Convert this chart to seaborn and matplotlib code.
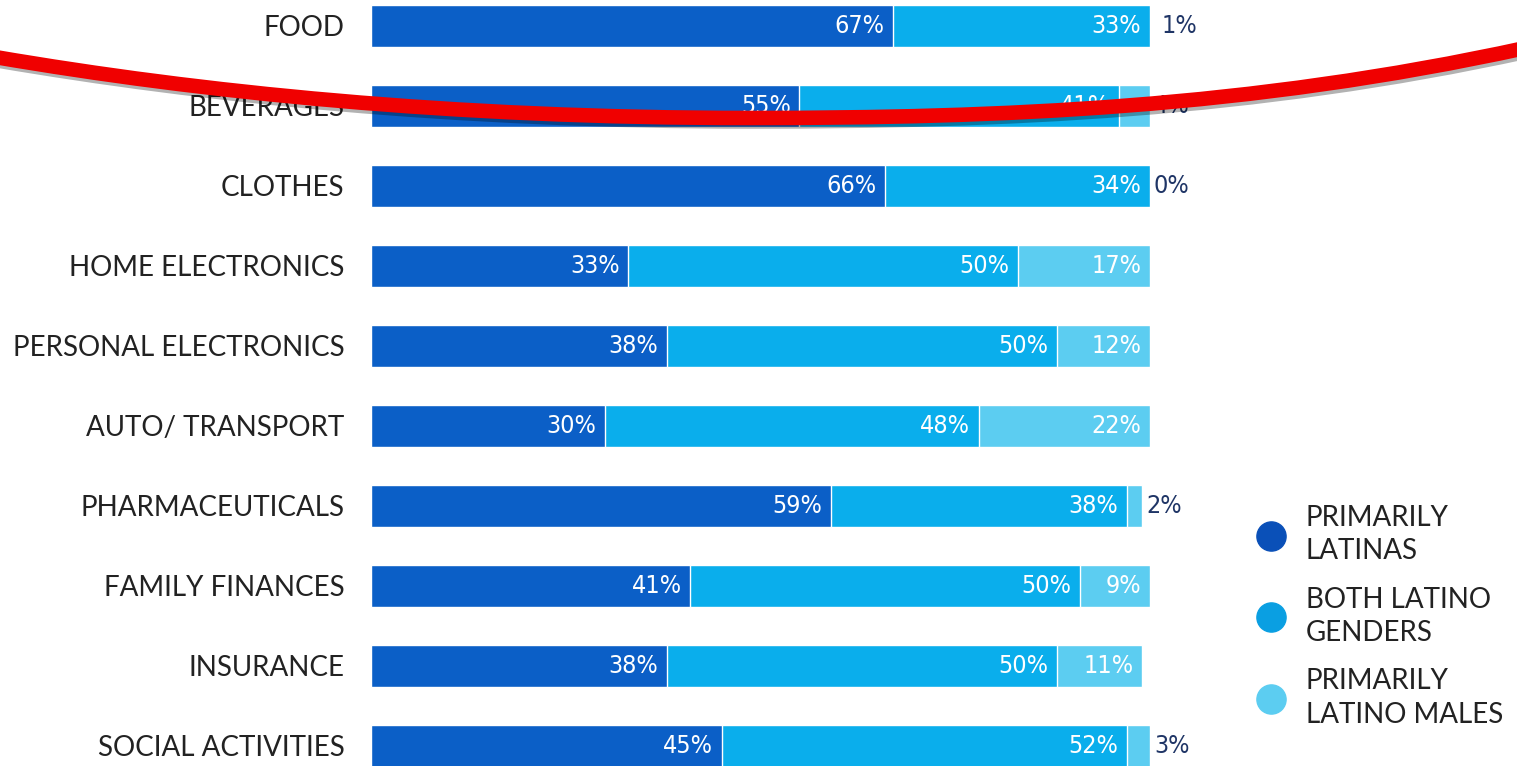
import numpy as np
import pandas as pd
import matplotlib.pyplot as plt
import matplotlib.patheffects as pe
from matplotlib.path import Path
from matplotlib.patches import PathPatch
from matplotlib.lines import Line2D
import seaborn as sns

# Data
categories = ['FOOD', 'BEVERAGES', 'CLOTHES', 'HOME ELECTRONICS', 'PERSONAL ELECTRONICS',
              'AUTO/ TRANSPORT', 'PHARMACEUTICALS', 'FAMILY FINANCES', 'INSURANCE',
              'SOCIAL ACTIVITIES']
latinas = [67, 55, 66, 33, 38, 30, 59, 41, 38, 45]
both_genders = [33, 41, 34, 50, 50, 48, 38, 50, 50, 52]
latino_males = [1, 4, 0, 17, 12, 22, 2, 9, 11, 3]
series_names = ['PRIMARILY\nLATINAS', 'BOTH LATINO\nGENDERS', 'PRIMARILY\nLATINO MALES']

dark = '#0b5fc7'
mid = '#0aaeec'
light = '#5ccdf1'

sns.set_style('white')
plt.rcParams['font.family'] = ['Lato', 'DejaVu Sans']

df = pd.DataFrame({'category': categories, 'latinas': latinas,
                   'both': both_genders, 'males': latino_males})
df['cum_mid'] = df['latinas'] + df['both']
df['cum_all'] = df['cum_mid'] + df['males']

fig = plt.figure(figsize=(15.17, 7.66), dpi=100)
ax = fig.add_axes([371 / 1517, 0, 779 / 1517, 1])

# stacked bars drawn back-to-front from cumulative totals
for col, c in [('cum_all', light), ('cum_mid', mid), ('latinas', dark)]:
    sns.barplot(data=df, y='category', x=col, color=c, orient='h', width=0.52,
                saturation=1, errorbar=None, ax=ax)

ax.set_xlim(0, 100)
ax.set_ylim(9.25, -0.325)
ax.set_xlabel('')
ax.set_ylabel('')
ax.set_xticks([])
sns.despine(ax=ax, left=True, bottom=True)
ax.tick_params(axis='y', length=0, pad=19, labelsize=20, labelcolor='#222222')

for i, row in df.iterrows():
    segs = [(row['latinas'], 0), (row['both'], row['latinas']), (row['males'], row['cum_mid'])]
    for val, start in segs:
        end = start + val
        if val >= 5:
            ax.text(end - 1.1, i, f'{val}%', ha='right', va='center', color='white',
                    fontsize=18, family='DejaVu Sans', fontstretch='condensed')
        else:
            ax.text(end + 0.5, i, f'{val}%', ha='left', va='center', color='#1f3566',
                    fontsize=18, family='DejaVu Sans', fontstretch='condensed', clip_on=False)

# legend
handles = [Line2D([], [], marker='o', linestyle='none', markersize=21, markerfacecolor=c,
                  markeredgecolor=c) for c in ['#0a50b8', '#0a9fe2', '#5ccdf1']]
leg = fig.legend(handles, series_names, loc='upper left',
                 bbox_to_anchor=(1243 / 1517, 1 - 494 / 766),
                 frameon=False, fontsize=20, labelspacing=0.8, handletextpad=0.65,
                 handlelength=1.2, labelcolor='#222222', borderaxespad=0)
for t in leg.get_texts():
    t.set_linespacing(1.35)

# red hand-drawn swoosh over the top of the picture
W, H = 1517, 766
pts = [(-5, 57), (200, 92), (450, 118), (750, 118), (1000, 118), (1250, 108), (1525, 48)]
verts = [(x / W, 1 - y / H) for x, y in pts]
codes = [Path.MOVETO] + [Path.CURVE4] * 6
swoosh = PathPatch(Path(verts, codes), transform=fig.transFigure, facecolor='none',
                   edgecolor='#f00000', linewidth=10.5, capstyle='butt', zorder=10)
swoosh.set_path_effects([pe.SimpleLineShadow(offset=(1.5, -2.5), shadow_color='black', alpha=0.3),
                         pe.Normal()])
fig.add_artist(swoosh)

fig.savefig('out.png', dpi=100)
